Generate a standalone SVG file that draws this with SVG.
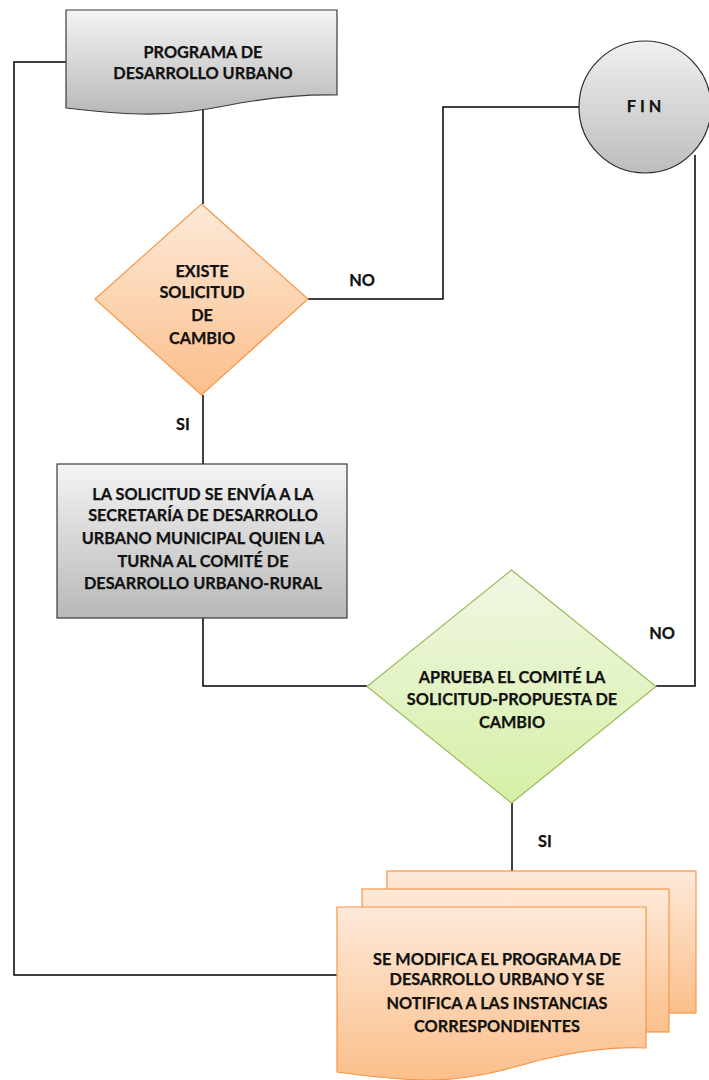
<svg xmlns="http://www.w3.org/2000/svg" width="709" height="1080" viewBox="0 0 709 1080">
<style>
text{font-family:Lato,"Liberation Sans",sans-serif;font-weight:bold;font-size:16.3px;fill:#111;text-anchor:middle;dominant-baseline:central;stroke:#111;stroke-width:0.25}
.conn{fill:none;stroke:#000;stroke-width:1.5}
.grey{fill:url(#gGrey);stroke:#3a3a3a;stroke-width:1.2}
.orange{fill:url(#gOrange);stroke:#f79646;stroke-width:1.2}
.green{fill:url(#gGreen);stroke:#9bbb59;stroke-width:1.2}
</style>
<defs>
<linearGradient id="gGrey" x1="0" y1="0" x2="0" y2="1"><stop offset="0" stop-color="#f4f4f4"/><stop offset="1" stop-color="#b8b8b8"/></linearGradient>
<linearGradient id="gCircle" x1="0" y1="0" x2="0" y2="1"><stop offset="0" stop-color="#f0f0f0"/><stop offset="1" stop-color="#bdbdbd"/></linearGradient>
<linearGradient id="gOrange" x1="0" y1="0" x2="0" y2="1"><stop offset="0" stop-color="#fde9d9"/><stop offset="1" stop-color="#fbbf8b"/></linearGradient>
<linearGradient id="gGreen" x1="0" y1="0" x2="0" y2="1"><stop offset="0" stop-color="#f0f7e4"/><stop offset="1" stop-color="#d6efa6"/></linearGradient>
</defs>
<g id="connectors">
<polyline class="conn" points="66,62 14,62 14,975 337,975"/>
<line class="conn" x1="203" y1="108" x2="203" y2="204"/>
<polyline class="conn" points="308,299 443,299 443,107 579,107"/>
<line class="conn" x1="203" y1="395" x2="203" y2="464"/>
<polyline class="conn" points="203,618 203,686 367,686"/>
<polyline class="conn" points="695,155 695,686 656,686"/>
<line class="conn" x1="512" y1="803" x2="512" y2="871"/>
<text x="362" y="279">NO</text>
<text x="183" y="423">SI</text>
<text x="662" y="632">NO</text>
<text x="545" y="840">SI</text>
</g>
<g id="programa">
<path class="grey" d="M66,10 H337 V95 C300,94 270,98 240,103 C205,110 175,115 140,114 C105,113 85,110 66,108 Z"/>
<text x="203" y="51">PROGRAMA DE</text>
<text x="203" y="72">DESARROLLO URBANO</text>
</g>
<g id="fin">
<circle cx="645" cy="107" r="66" fill="url(#gCircle)" stroke="#2a2a2a" stroke-width="1.2"/>
<text x="646" y="105" letter-spacing="4">FIN</text>
</g>
<g id="existe">
<polygon class="orange" points="201.5,204 308,299 201.5,395 95,299"/>
<text x="202" y="270">EXISTE</text>
<text x="202" y="291">SOLICITUD</text>
<text x="202" y="314">DE</text>
<text x="202" y="337">CAMBIO</text>
</g>
<g id="envia">
<rect class="grey" x="57" y="464" width="290" height="154"/>
<text x="203" y="493">LA SOLICITUD SE ENVÍA A LA</text>
<text x="203" y="514">SECRETARÍA DE DESARROLLO</text>
<text x="203" y="537">URBANO MUNICIPAL QUIEN LA</text>
<text x="203" y="560">TURNA AL COMITÉ DE</text>
<text x="203" y="582">DESARROLLO URBANO-RURAL</text>
</g>
<g id="aprueba">
<polygon class="green" points="511.5,570 656,686.5 511.5,803 367,686.5"/>
<text x="512" y="676">APRUEBA EL COMITÉ LA</text>
<text x="512" y="698">SOLICITUD-PROPUESTA DE</text>
<text x="512" y="721">CAMBIO</text>
</g>
<g id="modifica">
<rect class="orange" x="387" y="871" width="309" height="142"/>
<rect class="orange" x="362" y="889" width="307" height="143"/>
<path class="orange" d="M337,907 H646 V1048 C610,1046 575,1052 540,1060 C505,1070 470,1080 430,1080 C395,1080 365,1076 337,1072 Z"/>
<text x="497" y="958">SE MODIFICA EL PROGRAMA DE</text>
<text x="497" y="978">DESARROLLO URBANO Y SE</text>
<text x="497" y="1002">NOTIFICA A LAS INSTANCIAS</text>
<text x="497" y="1025">CORRESPONDIENTES</text>
</g>
</svg>
